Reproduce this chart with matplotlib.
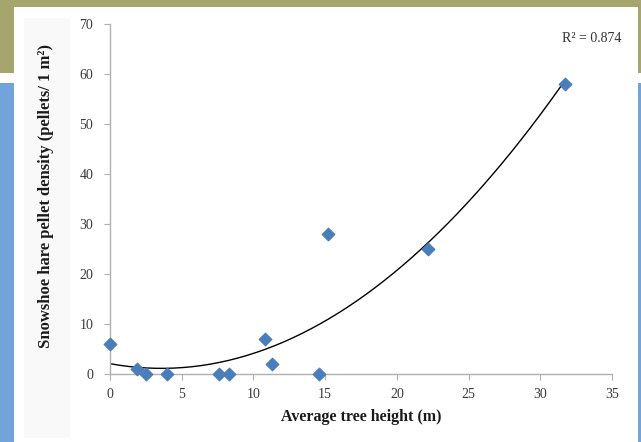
import numpy as np
import matplotlib
matplotlib.use("Agg")
import matplotlib.pyplot as plt
from matplotlib.patches import Rectangle

# Data
tree_height = [0.0, 1.9, 2.5, 4.0, 7.6, 8.3, 10.8, 11.3, 14.6, 15.2, 22.2, 31.7]
pellet_density = [6, 1, 0, 0, 0, 0, 7, 2, 0, 28, 25, 58]
x_ticks = [0, 5, 10, 15, 20, 25, 30, 35]
y_ticks = [0, 10, 20, 30, 40, 50, 60, 70]
r2_label = "R² = 0.874"

W, H = 641, 442
fig = plt.figure(figsize=(W / 100, H / 100), dpi=100)
fig.patch.set_facecolor("white")

def frect(x0, y0, x1, y1, color, z=-10):
    # pixel coords from top-left
    fig.patches.append(Rectangle((x0 / W, 1 - y1 / H), (x1 - x0) / W, (y1 - y0) / H,
                                 transform=fig.transFigure, facecolor=color,
                                 edgecolor="none", zorder=z))

olive = "#a5a56d"
blue = "#72a4db"
frect(0, 0, W, 73, olive)
frect(0, 83, 14, H, blue)
frect(638, 83, W, H, blue)
frect(14, 7, 638, H, "white", z=-9)
frect(24, 18, 70, 438, "#f9f9f9", z=-8)

serif = ["Liberation Serif", "DejaVu Serif"]

ax = fig.add_axes([110 / W, (H - 374) / H, (612 - 110) / W, (374 - 24) / H])
ax.set_facecolor("none")

xs = np.array(tree_height)
ys = np.array(pellet_density)
coef = np.polyfit(xs, ys, 2)
xf = np.linspace(xs.min(), xs.max(), 200)
ax.plot(xf, np.polyval(coef, xf), color="black", lw=1.0, zorder=2)
ax.scatter(xs, ys, marker="D", s=40, color="#4a7ebb", zorder=3, clip_on=False)

ax.set_xlim(0, 35)
ax.set_ylim(0, 70)
ax.set_xticks(x_ticks)
ax.set_yticks(y_ticks)
for s in ["top", "right"]:
    ax.spines[s].set_visible(False)
for s in ["left", "bottom"]:
    ax.spines[s].set_color("#b0b0b0")
    ax.spines[s].set_linewidth(1.0)
ax.tick_params(axis="both", colors="#b0b0b0", length=4, labelcolor="#3a3a3a",
               labelsize=10)
for lab in ax.get_xticklabels() + ax.get_yticklabels():
    lab.set_fontfamily(serif)
ax.tick_params(axis="x", pad=6)
ax.tick_params(axis="y", pad=8)

ax.set_xlabel("Average tree height (m)", fontfamily=serif, fontweight="bold",
              fontsize=11.5, color="#1a1a1a", labelpad=6)
fig.text(46 / W, 1 - 196 / H, "Snowshoe hare pellet density (pellets/ 1 m²)",
         rotation=90, ha="center", va="center", fontfamily=serif,
         fontweight="bold", fontsize=12, color="#1a1a1a")
fig.text(592 / W, 1 - 38 / H, r2_label, ha="center", va="center",
         fontfamily=serif, fontsize=10, color="#333333")

fig.savefig("out.png", dpi=100, facecolor=fig.get_facecolor())
